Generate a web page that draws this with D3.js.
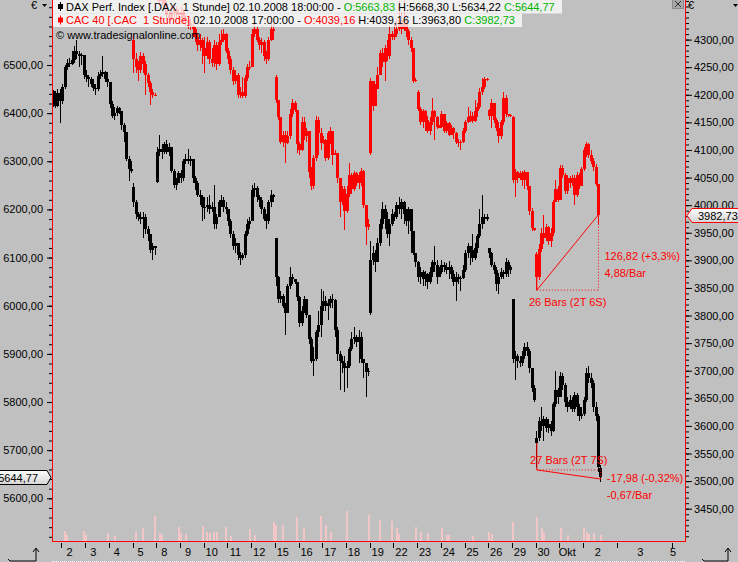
<!DOCTYPE html>
<html>
<head>
<meta charset="utf-8">
<script src="https://cdn.jsdelivr.net/npm/d3@7"></script>
<style>
body { margin: 0; background: #c0c0c0; }
svg { display: block; font-family: "Liberation Sans", Arial, sans-serif; font-size: 11px; }
</style>
</head>
<body>
<svg id="chart" width="738" height="562"></svg>
<script>
// hourly bars, one row per trading day (Sep 1 is cut at the left edge)
var dayLabels = ["2", "3", "4", "5", "8", "9", "10", "11", "12", "15", "16", "17", "18", "19", "22", "23", "24", "25", "26", "29", "30", "Okt", "2"];
var futureLabels = ["3", "5"];

var daxClose = [
	[6430, 6415, 6442, 6425],
	[6455, 6495, 6505, 6502, 6510, 6530, 6522, 6518, 6520, 6480],
	[6475, 6470, 6460, 6452, 6450, 6478, 6482, 6485, 6470, 6465],
	[6420, 6395, 6400, 6410, 6405, 6375, 6360, 6305, 6285, 6280],
	[6215, 6190, 6185, 6180, 6185, 6160, 6150, 6115, 6125, 6120],
	[6320, 6325, 6320, 6335, 6320, 6330, 6280, 6250, 6255, 6275],
	[6265, 6300, 6305, 6300, 6305, 6265, 6255, 6230, 6225, 6205],
	[6205, 6210, 6200, 6205, 6170, 6185, 6215, 6220, 6205, 6200],
	[6175, 6150, 6125, 6130, 6105, 6100, 6105, 6150, 6170, 6175],
	[6240, 6245, 6225, 6220, 6200, 6180, 6175, 6215, 6230, 6225],
	[6060, 6015, 6020, 6000, 5985, 6040, 6060, 6055, 6050, 6018],
	[5965, 5990, 6015, 5980, 5930, 5885, 5890, 5945, 5960, 6000],
	[6010, 6000, 6005, 6015, 6012, 5950, 5900, 5885, 5880, 5870],
	[5875, 5910, 5930, 5935, 5925, 5935, 5890, 5880, 5862, 5865],
	[6095, 6110, 6090, 6130, 6170, 6200, 6180, 6150, 6170, 6190],
	[6185, 6210, 6200, 6215, 6190, 6175, 6200, 6155, 6110, 6090],
	[6060, 6070, 6055, 6065, 6050, 6070, 6090, 6085, 6060, 6070],
	[6085, 6080, 6075, 6080, 6065, 6050, 6060, 6058, 6058, 6075],
	[6110, 6125, 6115, 6100, 6120, 6145, 6170, 6185, 6180, 6185],
	[6110, 6085, 6075, 6045, 6060, 6070, 6065, 6090, 6080, 6075],
	[5890, 5895, 5885, 5880, 5895, 5915, 5905, 5870, 5830, 5805],
	[5725, 5760, 5750, 5765, 5745, 5755, 5740, 5795, 5825, 5810],
	[5855, 5835, 5800, 5790, 5805, 5785, 5815, 5790, 5770, 5775],
	[5805, 5860, 5850, 5840, 5790, 5770, 5665, 5644.77]
];
var daxHigh = [
	[6448, 6445, 6450, 6450],
	[6460, 6500, 6512, 6515, 6530, 6540, 6552, 6530, 6525, 6520],
	[6490, 6480, 6475, 6470, 6460, 6485, 6490, 6518, 6488, 6485],
	[6440, 6425, 6412, 6415, 6412, 6405, 6380, 6360, 6310, 6300],
	[6255, 6220, 6195, 6195, 6195, 6190, 6165, 6150, 6130, 6125],
	[6330, 6355, 6335, 6340, 6345, 6338, 6330, 6285, 6265, 6280],
	[6282, 6305, 6315, 6325, 6310, 6305, 6270, 6260, 6240, 6230],
	[6225, 6225, 6230, 6215, 6250, 6190, 6220, 6230, 6225, 6215],
	[6195, 6180, 6155, 6140, 6130, 6112, 6110, 6155, 6180, 6185],
	[6250, 6255, 6248, 6230, 6225, 6205, 6190, 6220, 6240, 6232],
	[6140, 6062, 6030, 6025, 6005, 6045, 6080, 6065, 6055, 6050],
	[6020, 6000, 6020, 6012, 5980, 5935, 5915, 5950, 5990, 6035],
	[6030, 6020, 6015, 6020, 6025, 6015, 5955, 5905, 5895, 5895],
	[5885, 5915, 5945, 5955, 5940, 5950, 5945, 5890, 5880, 5870],
	[6135, 6125, 6115, 6140, 6180, 6215, 6210, 6195, 6180, 6200],
	[6195, 6215, 6225, 6222, 6218, 6200, 6205, 6200, 6155, 6100],
	[6092, 6080, 6075, 6072, 6068, 6080, 6095, 6125, 6095, 6080],
	[6095, 6090, 6088, 6092, 6085, 6075, 6070, 6065, 6062, 6085],
	[6115, 6130, 6125, 6150, 6130, 6150, 6200, 6230, 6190, 6190],
	[6120, 6112, 6090, 6080, 6068, 6078, 6075, 6100, 6095, 6085],
	[6015, 5905, 5900, 5895, 5905, 5922, 5925, 5910, 5870, 5835],
	[5740, 5768, 5790, 5770, 5768, 5765, 5760, 5800, 5865, 5830],
	[5862, 5860, 5840, 5810, 5815, 5810, 5820, 5818, 5795, 5790],
	[5810, 5870, 5875, 5860, 5845, 5800, 5775, 5668.30]
];
var daxLow = [
	[6412, 6410, 6412, 6380],
	[6420, 6450, 6490, 6495, 6500, 6505, 6512, 6495, 6500, 6470],
	[6465, 6455, 6455, 6445, 6438, 6445, 6470, 6475, 6465, 6455],
	[6410, 6390, 6385, 6395, 6398, 6365, 6340, 6300, 6260, 6275],
	[6205, 6180, 6175, 6170, 6140, 6150, 6135, 6110, 6095, 6105],
	[6255, 6310, 6305, 6315, 6315, 6310, 6275, 6245, 6240, 6255],
	[6255, 6260, 6295, 6295, 6290, 6255, 6240, 6225, 6210, 6175],
	[6180, 6195, 6190, 6195, 6160, 6160, 6185, 6205, 6195, 6190],
	[6165, 6140, 6115, 6110, 6095, 6085, 6095, 6100, 6145, 6160],
	[6210, 6225, 6215, 6205, 6190, 6175, 6160, 6170, 6205, 6215],
	[6040, 6005, 6005, 5995, 5940, 5985, 6035, 6045, 6045, 6010],
	[5955, 5958, 5985, 5975, 5920, 5880, 5855, 5885, 5935, 5935],
	[5990, 5990, 5970, 5995, 5995, 5935, 5885, 5825, 5860, 5820],
	[5830, 5870, 5905, 5920, 5915, 5880, 5880, 5850, 5810, 5855],
	[5980, 6085, 6070, 6090, 6125, 6160, 6160, 6140, 6125, 6165],
	[6175, 6180, 6190, 6180, 6170, 6165, 6150, 6110, 6105, 6080],
	[6050, 6045, 6040, 6040, 6035, 6045, 6060, 6070, 6045, 6060],
	[6065, 6070, 6065, 6055, 6055, 6040, 6010, 6045, 6030, 6055],
	[6070, 6100, 6085, 6090, 6095, 6110, 6140, 6160, 6170, 6175],
	[6100, 6080, 6065, 6030, 6025, 6055, 6055, 6060, 6060, 6065],
	[5880, 5845, 5870, 5872, 5875, 5890, 5895, 5860, 5820, 5800],
	[5662.75, 5720, 5740, 5720, 5738, 5735, 5730, 5738, 5790, 5795],
	[5820, 5825, 5790, 5780, 5785, 5780, 5780, 5770, 5760, 5765],
	[5770, 5800, 5840, 5830, 5780, 5760, 5655, 5634.22]
];
// opens that differ from the previous close (gaps), by bar number
var daxGapOpen = {0: 6445, 34: 6247, 44: 6257, 94: 6140, 134: 5985, 184: 6120, 194: 6015, 204: 5715, 231: 5663.83};

// CAC is above the visible range before Sep 5, so it starts at bar 34
var cacFirstBar = 34;
var cacClose = [
	[4265, 4250, 4245, 4270, 4255, 4235, 4222, 4205, 4200, 4200],
	[4385, 4370, 4375, 4365, 4345, 4340, 4350, 4355, 4348, 4345],
	[4350, 4340, 4335, 4330, 4325, 4320, 4305, 4290, 4300, 4285],
	[4270, 4295, 4265, 4258, 4290, 4255, 4295, 4300, 4310, 4280],
	[4265, 4245, 4225, 4235, 4200, 4205, 4198, 4230, 4250, 4250],
	[4310, 4320, 4300, 4290, 4295, 4270, 4265, 4300, 4320, 4315],
	[4190, 4160, 4115, 4128, 4112, 4125, 4165, 4185, 4172, 4110],
	[4100, 4150, 4125, 4135, 4060, 4035, 4085, 4155, 4130, 4112],
	[4118, 4085, 4130, 4135, 4090, 4095, 4050, 4005, 4030, 3990],
	[4020, 4055, 4030, 4058, 4040, 4055, 4062, 4000, 3960, 3965],
	[4225, 4180, 4210, 4235, 4275, 4260, 4285, 4270, 4310, 4305],
	[4310, 4320, 4335, 4320, 4330, 4315, 4300, 4285, 4225, 4227],
	[4175, 4150, 4170, 4155, 4135, 4150, 4170, 4160, 4142, 4142],
	[4165, 4135, 4148, 4128, 4140, 4130, 4115, 4115, 4114, 4135],
	[4150, 4160, 4162, 4152, 4170, 4178, 4205, 4215, 4228, 4227],
	[4162, 4185, 4155, 4140, 4125, 4150, 4195, 4165, 4163, 4162],
	[4045, 4060, 4050, 4058, 4045, 4060, 4035, 3990, 3958, 3955],
	[3870, 3920, 3950, 3940, 3960, 3935, 3950, 4005, 4030, 4010],
	[4068, 4055, 4025, 4050, 4040, 4050, 4018, 4055, 4035, 4065],
	[4100, 4110, 4090, 4080, 4070, 4039.16, 3982.73]
];
var cacHigh = [
	[4310, 4275, 4262, 4278, 4275, 4262, 4240, 4225, 4210, 4203],
	[4410, 4390, 4385, 4380, 4370, 4352, 4360, 4365, 4360, 4355],
	[4360, 4355, 4345, 4340, 4338, 4330, 4322, 4310, 4310, 4302],
	[4305, 4305, 4300, 4285, 4300, 4295, 4310, 4318, 4320, 4312],
	[4285, 4270, 4250, 4245, 4240, 4215, 4232, 4235, 4255, 4262],
	[4320, 4330, 4325, 4305, 4302, 4300, 4280, 4305, 4340, 4330],
	[4235, 4190, 4150, 4135, 4135, 4135, 4175, 4192, 4188, 4172],
	[4115, 4160, 4160, 4140, 4135, 4070, 4090, 4162, 4160, 4140],
	[4125, 4120, 4135, 4142, 4135, 4100, 4095, 4050, 4035, 4035],
	[4035, 4076, 4058, 4062, 4060, 4060, 4068, 4064, 3985, 3975],
	[4230, 4215, 4220, 4250, 4282, 4285, 4290, 4300, 4325, 4315],
	[4330, 4340, 4370, 4350, 4375, 4345, 4320, 4305, 4285, 4230],
	[4208, 4178, 4175, 4172, 4162, 4160, 4194, 4172, 4162, 4145],
	[4170, 4165, 4152, 4150, 4145, 4142, 4132, 4120, 4118, 4140],
	[4155, 4178, 4170, 4168, 4190, 4185, 4212, 4230, 4232, 4230],
	[4175, 4192, 4185, 4158, 4150, 4155, 4205, 4200, 4166, 4165],
	[4162, 4065, 4062, 4062, 4062, 4064, 4060, 4025, 3995, 3958],
	[3915, 3930, 3958, 3982, 3966, 3962, 3958, 4010, 4046, 4035],
	[4072, 4072, 4058, 4055, 4052, 4055, 4055, 4060, 4058, 4070],
	[4106, 4115, 4112, 4100, 4085, 4075, 4039.16]
];
var cacLow = [
	[4240, 4240, 4225, 4240, 4240, 4200, 4215, 4182, 4195, 4198],
	[4370, 4360, 4360, 4355, 4335, 4330, 4335, 4340, 4338, 4335],
	[4340, 4330, 4325, 4320, 4318, 4305, 4295, 4280, 4280, 4255],
	[4240, 4265, 4255, 4250, 4250, 4245, 4252, 4290, 4295, 4275],
	[4255, 4238, 4218, 4220, 4195, 4195, 4195, 4195, 4225, 4245],
	[4250, 4305, 4295, 4282, 4275, 4262, 4255, 4262, 4298, 4300],
	[4185, 4155, 4110, 4105, 4076, 4110, 4120, 4160, 4168, 4095],
	[4090, 4098, 4118, 4115, 4050, 4028, 4030, 4080, 4090, 4100],
	[4110, 4080, 4082, 4110, 4073, 4090, 4040, 3979, 4000, 3955],
	[3985, 4015, 4020, 4025, 4035, 4030, 4035, 3995, 3928, 3955],
	[4090, 4170, 4195, 4215, 4235, 4250, 4225, 4262, 4265, 4300],
	[4300, 4305, 4315, 4310, 4315, 4305, 4290, 4278, 4222, 4224],
	[4170, 4145, 4140, 4135, 4130, 4128, 4145, 4118, 4138, 4140],
	[4140, 4130, 4130, 4125, 4128, 4120, 4110, 4105, 4100, 4112],
	[4130, 4148, 4150, 4148, 4150, 4160, 4175, 4200, 4210, 4225],
	[4155, 4140, 4148, 4135, 4112, 4120, 4145, 4160, 4160, 4160],
	[4040, 4015, 4040, 4045, 4035, 4030, 4028, 3982, 3953, 3953],
	[3846, 3865, 3915, 3930, 3935, 3928, 3925, 3945, 4005, 4005],
	[4010, 4050, 4020, 4020, 4032, 4035, 4000, 4015, 4030, 4035],
	[4062, 4088, 4085, 4075, 4062, 4035, 3963.80]
];
var cacGapOpen = {34: 4300, 44: 4400, 94: 4232, 134: 4094, 154: 4205, 184: 4172, 194: 4160, 204: 3912};

// volume (only bars with a visible column)
var volBar = [5, 6, 13, 14, 23, 26, 35, 38, 43, 45, 46, 53, 54, 56, 63, 65, 66, 68, 69, 73, 75, 83, 85, 93, 94, 97, 103, 106, 113, 115, 117, 124, 133, 138, 143, 145, 146, 153, 155, 158, 164, 166, 167, 177, 184, 185, 194, 204, 206, 207, 214, 217, 224, 225, 226, 228, 231];
var volValue = [10, 6, 10, 6, 8, 5, 9, 13, 25, 8, 6, 14, 8, 7, 15, 9, 8, 9, 9, 14, 5, 12, 6, 19, 16, 16, 24, 13, 25, 16, 9, 30, 26, 21, 20, 13, 7, 14, 9, 8, 13, 6, 6, 5, 9, 7, 19, 24, 13, 8, 13, 6, 13, 9, 7, 8, 6];

// measuring lines drawn on the chart
var cacMeasure = [3846, 3982.73];
var cacMeasureBars = [204, 230];
var cacMeasureText = ["126,82 (+3,3%)", "4,88/Bar", "26 Bars (2T 6S)"];
var daxMeasure = [5659, 5640];
var daxMeasureBars = [204, 231];
var daxMeasureText = ["-17,98 (-0,32%)", "-0,67/Bar", "27 Bars (2T 7S)"];

var legendNames = ["DAX Perf. Index [.DAX  1 Stunde]", "CAC 40 [.CAC  1 Stunde]"];
var legendTimes = ["02.10.2008 18:00:00", "02.10.2008 17:00:00"];


var width = 738, height = 562,
	plotLeft = 52, plotRight = 685, plotBottom = 541;
var green = "#00b400", red = "#ff0000";

var svg = d3.select("#chart");

var fmt = function(v) { return d3.format(".2f")(v).replace(".", ","); };

// bar number -> left edge of its slot
var x = d3.scaleLinear().domain([0, 267]).range([plotLeft, plotRight]);
var yDax = d3.scaleLinear().domain([5600, 6500]).range([498.3, 65]);
var yCac = d3.scaleLinear().domain([3450, 4300]).range([508.7, 39.6]);
var yVol = d3.scaleLinear().domain([0, 30]).range([plotBottom, plotBottom - 30]);

function makeBars(close, high, low, gapOpen, first) {
	close = d3.merge(close); high = d3.merge(high); low = d3.merge(low);
	var bars = [];
	for (var k = 0; k < close.length; k++) {
		var i = first + k;
		var open = gapOpen.hasOwnProperty(i) ? gapOpen[i] : close[k - 1];
		bars.push({i: i, o: open, h: high[k], l: low[k], c: close[k]});
	}
	return bars;
}

var daxBars = makeBars(daxClose, daxHigh, daxLow, daxGapOpen, 0);
var cacBars = makeBars(cacClose, cacHigh, cacLow, cacGapOpen, cacFirstBar);

svg.append("rect")
	.attr("width", width)
	.attr("height", height)
	.attr("fill", "#c0c0c0");

svg.append("clipPath")
	.attr("id", "plotclip")
	.append("rect")
	.attr("x", plotLeft + 1)
	.attr("y", 0)
	.attr("width", plotRight - plotLeft - 1)
	.attr("height", plotBottom);

var plotg = svg.append("g")
	.attr("clip-path", "url(#plotclip)")
	.attr("shape-rendering", "crispEdges");

// volume columns
plotg.selectAll(".vol")
	.data(volBar)
	.enter()
	.append("rect")
	.attr("class", "vol")
	.attr("x", function(d) { return Math.round(x(d + 0.5) - 1); })
	.attr("width", 2)
	.attr("y", function(d, k) { return Math.round(yVol(volValue[k])); })
	.attr("height", function(d, k) { return plotBottom - Math.round(yVol(volValue[k])); })
	.attr("fill", "#f2c6c6");

function drawCandles(bars, y, color) {
	var g = plotg.append("g").attr("fill", color);
	// wicks
	g.selectAll(null)
		.data(bars)
		.enter()
		.append("rect")
		.attr("x", function(d) { return Math.round(x(d.i + 0.5) - 1.5) + 1; })
		.attr("width", 1)
		.attr("y", function(d) { return Math.round(y(d.h)); })
		.attr("height", function(d) { return Math.max(1, Math.round(y(d.l)) - Math.round(y(d.h))); });
	// bodies
	g.selectAll(null)
		.data(bars)
		.enter()
		.append("rect")
		.attr("x", function(d) { return Math.round(x(d.i + 0.5) - 1.5); })
		.attr("width", 3)
		.attr("y", function(d) { return Math.round(y(Math.max(d.o, d.c))); })
		.attr("height", function(d) {
			return Math.max(1, Math.round(y(Math.min(d.o, d.c))) - Math.round(y(Math.max(d.o, d.c))));
		});
}

drawCandles(daxBars, yDax, "#000");
drawCandles(cacBars, yCac, red);

// frame
svg.append("line").attr("x1", plotLeft + 0.5).attr("x2", plotLeft + 0.5).attr("y1", 0).attr("y2", plotBottom + 1).attr("stroke", red);
svg.append("line").attr("x1", plotRight + 0.5).attr("x2", plotRight + 0.5).attr("y1", 0).attr("y2", plotBottom + 1).attr("stroke", red);
svg.append("line").attr("x1", plotLeft).attr("x2", plotRight + 1).attr("y1", plotBottom + 0.5).attr("y2", plotBottom + 0.5).attr("stroke", red);

// value axes
var leftAxis = d3.axisLeft(yDax)
	.tickValues(d3.range(5600, 6501, 100))
	.tickSize(5)
	.tickPadding(4)
	.tickFormat(fmt);
var leftMinor = d3.axisLeft(yDax)
	.tickValues(d3.range(5520, 6640, 20))
	.tickSize(3)
	.tickFormat("");
var rightAxis = d3.axisRight(yCac)
	.tickValues(d3.range(3450, 4301, 50))
	.tickSize(6)
	.tickPadding(2)
	.tickFormat(fmt);
var rightMinor = d3.axisRight(yCac)
	.tickValues(d3.range(3400, 4380, 10))
	.tickSize(3)
	.tickFormat("");

[[leftMinor, plotLeft], [leftAxis, plotLeft], [rightMinor, plotRight + 1], [rightAxis, plotRight + 1]].forEach(function(a) {
	var g = svg.append("g")
		.attr("transform", "translate(" + a[1] + ",0)")
		.call(a[0]);
	g.select(".domain").remove();
	g.selectAll("line").attr("stroke", "#000");
	g.selectAll("text")
		.attr("fill", "#000")
		.style("font-family", "Liberation Sans, Arial, sans-serif")
		.style("font-size", "11px");
});

// day axis
var dayg = svg.append("g").attr("class", "days");
dayLabels.forEach(function(label, k) {
	var start = 4 + k * 10;
	var tx = Math.round(x(start)) + 0.5;
	dayg.append("line")
		.attr("x1", tx).attr("x2", tx)
		.attr("y1", plotBottom + 2).attr("y2", plotBottom + 7)
		.attr("stroke", "#000");
	var lx = (k == dayLabels.length - 1) ? x(start + 6.2) : x(start) + 8;
	dayg.append("text")
		.attr("x", lx)
		.attr("y", plotBottom + 15)
		.attr("text-anchor", "middle")
		.text(label);
});
// days after the data
[238.5, 261.5].forEach(function(b) {
	var tx = Math.round(x(b)) + 0.5;
	dayg.append("line")
		.attr("x1", tx).attr("x2", tx)
		.attr("y1", plotBottom + 2).attr("y2", plotBottom + 7)
		.attr("stroke", "#000");
});
dayg.append("text").attr("x", x(248.2)).attr("y", plotBottom + 15).attr("text-anchor", "middle").text(futureLabels[0]);
dayg.append("text").attr("x", x(262)).attr("y", plotBottom + 15).attr("text-anchor", "middle").text(futureLabels[1]);

svg.append("line")
	.attr("x1", plotLeft).attr("x2", plotRight + 1)
	.attr("y1", 561.5).attr("y2", 561.5)
	.attr("stroke", "#fff")
	.attr("stroke-dasharray", "1,1");

// legend
var lastDax = daxBars[daxBars.length - 1], lastCac = cacBars[cacBars.length - 1];
var legendRows = [
	{name: legendNames[0], time: legendTimes[0], bar: lastDax, color: "#000", openColor: green, right: 562},
	{name: legendNames[1], time: legendTimes[1], bar: lastCac, color: red, openColor: red, right: 522}
];
legendRows.forEach(function(r, k) {
	var top = k * 13.5;
	svg.append("rect")
		.attr("x", plotLeft + 1).attr("y", top)
		.attr("width", r.right - plotLeft - 1).attr("height", 13.5)
		.attr("fill", "#fff").attr("fill-opacity", 0.76);
	svg.append("rect").attr("x", 60).attr("y", top + 2).attr("width", 1).attr("height", 9).attr("fill", r.color);
	svg.append("rect").attr("x", 58).attr("y", top + 4).attr("width", 5).attr("height", 5).attr("fill", r.color);
	var t = svg.append("text")
		.attr("x", 66)
		.attr("y", top + 10.5)
		.style("white-space", "pre");
	t.append("tspan").attr("fill", r.color).text(r.name);
	t.append("tspan").attr("fill", "#000").text(" " + r.time + " - ");
	t.append("tspan").attr("fill", r.openColor).text("O:" + fmt(r.bar.o));
	t.append("tspan").attr("fill", "#000").text(" H:" + fmt(r.bar.h) + " L:" + fmt(r.bar.l) + " ");
	t.append("tspan").attr("fill", green).text("C:" + fmt(r.bar.c));
});

svg.append("text")
	.attr("x", 56)
	.attr("y", 39)
	.attr("fill", "#000")
	.text("\u00a9 www.tradesignalonline.com");

// measuring lines
function drawMeasure(vals, bars, texts, y, firstBar) {
	var x0 = x(bars[0] + 0.5), x1 = x(bars[1] + 0.5),
		y0 = y(vals[0]), y1 = y(vals[1]);
	var g = svg.append("g").attr("fill", red);
	var bodyBottom = y(Math.min(firstBar.o, firstBar.c));
	g.append("line").attr("x1", x0).attr("x2", x0).attr("y1", bodyBottom).attr("y2", y0).attr("stroke", red);
	g.append("line").attr("x1", x0).attr("x2", x1).attr("y1", y0).attr("y2", y1).attr("stroke", red);
	g.append("line").attr("x1", x0).attr("x2", x1).attr("y1", y0).attr("y2", y0)
		.attr("stroke", red).attr("stroke-dasharray", "1,2");
	g.append("line").attr("x1", x1).attr("x2", x1).attr("y1", y1).attr("y2", y0)
		.attr("stroke", red).attr("stroke-dasharray", "1,2");
	var mid = (y0 + y1) / 2;
	g.append("text").attr("x", x1 + 6).attr("y", mid + 8).text(texts[0]);
	g.append("text").attr("x", x1 + 6).attr("y", mid + 25).text(texts[1]);
	g.append("text")
		.attr("x", (x0 + x1) / 2)
		.attr("y", y0 > y1 ? y0 + 16 : y0 - 6)
		.attr("text-anchor", "middle")
		.text(texts[2]);
}
drawMeasure(cacMeasure, cacMeasureBars, cacMeasureText, yCac, cacBars[cacMeasureBars[0] - cacFirstBar]);
drawMeasure(daxMeasure, daxMeasureBars, daxMeasureText, yDax, daxBars[daxMeasureBars[0]]);

// last price tags
var grad = svg.append("defs").append("linearGradient")
	.attr("id", "tagfill").attr("x1", 0).attr("x2", 0).attr("y1", 0).attr("y2", 1);
grad.append("stop").attr("offset", "0%").attr("stop-color", "#ffffff");
grad.append("stop").attr("offset", "100%").attr("stop-color", "#d4d4d4");

var ly = Math.round(yDax(lastDax.c)) + 0.5;
svg.append("path")
	.attr("d", "M-1," + (ly - 7) + "H47L51," + ly + "L47," + (ly + 7) + "H-1Z")
	.attr("fill", "url(#tagfill)")
	.attr("stroke", "#000");
svg.append("text")
	.attr("x", 38).attr("y", ly + 4)
	.attr("text-anchor", "end")
	.text(fmt(lastDax.c));

var ry = Math.round(yCac(lastCac.c)) + 0.5;
svg.append("path")
	.attr("d", "M" + (plotRight + 2) + "," + ry + "L" + (plotRight + 7) + "," + (ry - 7) + "H739V" + (ry + 7) + "H" + (plotRight + 7) + "Z")
	.attr("fill", "url(#tagfill)")
	.attr("stroke", red);
svg.append("text")
	.attr("x", 698).attr("y", ry + 4)
	.text(fmt(lastCac.c));

// currency pickers, close button, corner arrows
svg.append("text").attr("x", 31).attr("y", 9).text("\u20ac");
svg.append("path").attr("d", "M42,4H47L44.5,7Z").attr("fill", "#000");
svg.append("text").attr("x", 688).attr("y", 9).text("\u20ac");
svg.append("path").attr("d", "M733,4H738L735.5,7Z").attr("fill", "#000");

svg.append("rect").attr("x", 672.5).attr("y", -0.5).attr("width", 11).attr("height", 9)
	.attr("fill", "#a9a9a9").attr("stroke", "#8a8a8a");
svg.append("path").attr("d", "M675,1L681,7M681,1L675,7").attr("stroke", "#333").attr("fill", "none");

[[8, 36], [702, 728]].forEach(function(c) {
	svg.append("path")
		.attr("d", "M" + c[0] + ",559 L" + (c[0] + 2) + ",561 H" + c[1] + " V549 M" + (c[1] - 3) + ",552 L" + c[1] + ",548 L" + (c[1] + 3) + ",552")
		.attr("stroke", "#000")
		.attr("fill", "none");
});
</script>
</body>
</html>
